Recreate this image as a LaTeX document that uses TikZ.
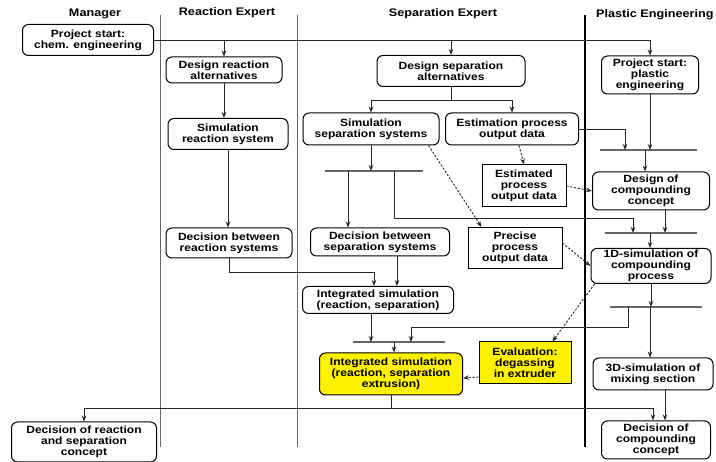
\documentclass[tikz,border=0pt]{standalone}
\usepackage{fontspec}
\setmainfont[FakeStretch=1.15]{Liberation Sans}
\usetikzlibrary{positioning,arrows.meta}

\begin{document}
\begin{tikzpicture}
    [x=1pt,y=-1pt,every node/.style={draw, line width=1pt, rounded corners=6pt, align=center, inner sep=1pt, font=\bfseries\fontsize{10.5}{11}\selectfont},
     head/.style={draw=none, font=\bfseries\fontsize{11}{12}\selectfont},
     box/.style={rounded corners=0pt},
     hl/.style={fill=yellow},
     lane/.style={draw=black!60, line width=0.9pt},
     bar/.style={draw=black!60, line width=1.5pt},
     con/.style={draw=black!85, line width=0.9pt, -{Stealth[length=6pt,width=4.5pt]}},
     dcon/.style={con, dash pattern=on 2.2pt off 1.6pt}]
  \useasboundingbox (0,0) rectangle (716,462);

  \node[head] (h1) at (95,14) {Manager};
  \node[head] (h2) at (227,13) {Reaction Expert};
  \node[head] (h3) at (443,14) {Separation Expert};
  \node[head, anchor=east] (h4) at (715,15) {Plastic Engineering};

  \draw[lane] (160,15) -- (160,447);
  \draw[lane] (297,15) -- (297,447);
  \draw[line width=2.8pt] (585,15) -- (585,447);

  \node[minimum width=131pt, minimum height=31pt] (n1) at (88,40) {Project start:\\chem. engineering};
  \node[minimum width=116pt, minimum height=26pt] (n2) at (224,70) {Design reaction\\alternatives};
  \node[minimum width=120pt, minimum height=31pt] (n3) at (228,134) {Simulation\\reaction system};
  \node[minimum width=126pt, minimum height=30pt] (n4) at (229,243) {Decision between\\reaction systems};
  \node[minimum width=148pt, minimum height=31pt] (n5) at (451,71) {Design separation\\alternatives};
  \node[minimum width=136pt, minimum height=32pt] (n6) at (371,129) {Simulation\\separation systems};
  \node[minimum width=133pt, minimum height=32pt] (n7) at (512,129) {Estimation process\\output data};
  \node[minimum width=97pt, minimum height=38pt] (n8) at (650,75) {Project start:\\plastic\\engineering};
  \node[box, minimum width=84pt, minimum height=42pt] (n9) at (524,186) {Estimated\\process\\output data};
  \node[minimum width=117pt, minimum height=38pt] (n10) at (651,191) {Design of\\compounding\\concept};
  \node[box, minimum width=94pt, minimum height=41pt] (n11) at (515,248) {Precise\\process\\output data};
  \node[minimum width=139pt, minimum height=28pt] (n12) at (380,242) {Decision between\\separation systems};
  \node[minimum width=120pt, minimum height=35pt] (n13) at (651,266) {1D-simulation of\\compounding\\process};
  \node[minimum width=151pt, minimum height=27pt] (n14) at (378,300) {Integrated simulation\\(reaction, separation)};
  \node[hl, minimum width=143pt, minimum height=42pt] (n15) at (391,374) {Integrated simulation\\(reaction, separation\\extrusion)};
  \node[box, hl, minimum width=92pt, minimum height=42pt] (n16) at (525,363) {Evaluation:\\degassing\\in extruder};
  \node[minimum width=120pt, minimum height=32pt] (n17) at (653,374) {3D-simulation of\\mixing section};
  \node[minimum width=109pt, minimum height=38pt] (n18) at (656,440) {Decision of\\compounding\\concept};
  \node[minimum width=145pt, minimum height=40pt] (n19) at (84,442) {Decision of reaction\\and separation\\concept};

  % synchronisation bars
  \coordinate (b1a) at (325,171); \coordinate (b1b) at (423,171);
  \coordinate (b2a) at (600,150); \coordinate (b2b) at (697,150);
  \coordinate (b3a) at (605,233); \coordinate (b3b) at (697,233);
  \coordinate (b4a) at (610,307); \coordinate (b4b) at (702,307);
  \coordinate (b5a) at (353,342); \coordinate (b5b) at (445,342);
  \foreach \a/\b in {b1a/b1b, b2a/b2b, b3a/b3b, b4a/b4b, b5a/b5b}
    \draw[bar] (\a) -- (\b);

  \coordinate (c1) at (451,100);
  \coordinate (k1) at (348,171);
  \coordinate (k2) at (625,150);
  \coordinate (k3) at (645,150);
  \coordinate (k4) at (394,171);
  \coordinate (k5) at (633,218);
  \coordinate (k7) at (650,233);
  \coordinate (k8) at (628,307);
  \coordinate (k9) at (411,327);
  \coordinate (k10) at (650,307);
  \coordinate (k11) at (394,342);
  \coordinate (k12) at (391,408);
  \coordinate (k13) at (374,272);

  \draw[con] (n1.east) -| (n8.north);
  \draw[con] (n1.east -| n2.north) -- (n2.north);
  \draw[con] (n1.east -| n5.north) -- (n5.north);
  \foreach \from/\to in {n2/n3, n3/n4}
    \draw[con] (\from.south) -- (\from.south |- \to.north);
  \draw[con, -] (n5.south) -- (c1);
  \draw[con] (c1) -| (n6.north);
  \draw[con] (c1) -| (n7.north);
  \draw[con] (n7.east) -| (k2);
  \draw[con] (n8.south) -- (n8.south |- b2a);
  \draw[con] (k3) -- (k3 |- n10.north);
  \draw[con] (n6.south) -- (n6.south |- b1a);
  \draw[con] (k1) -- (k1 |- n12.north);
  \draw[con] (k4) |- (k5) -- (k5 |- b3a);
  \draw[con] ([xshift=14pt]n10.south) -- ([xshift=14pt]n10.south |- b3a);
  \draw[con] (k7) -- (k7 |- n13.north);
  \draw[con] (n13.south) -- (n13.south |- b4a);
  \draw[con] (k8) |- (k9) -- (k9 |- b5a);
  \draw[con] (k10) -- (k10 |- n17.north);
  \draw[con] ([xshift=-7pt]n14.south) -- ([xshift=-7pt]n14.south |- b5a);
  \draw[con] (k11) -- (k11 |- n15.north);
  \draw[con, -] (n15.south) -- (k12);
  \draw[con] (k12) -| (n19.north);
  \draw[con] (k12) -| ([xshift=-3pt]n18.north);
  \draw[con] ([xshift=12pt]n17.south) -- ([xshift=12pt]n17.south |- n18.north);
  \draw[con] ([xshift=17pt]n12.south) -- ([xshift=17pt]n12.south |- n14.north);
  \draw[con] (n4.south) |- (k13) -- (k13 |- n14.north);

  % data flows
  \draw[dcon] ([xshift=7pt]n7.south) -- (n9.north);
  \draw[dcon] ([xshift=-11pt]n6.south east) -- ([xshift=14pt]n11.north west);
  \draw[dcon] (n9.east) -- (n10.west);
  \draw[dcon] ([yshift=5pt]n11.east) -- (n13.west);
  \draw[dcon] ([xshift=4pt]n13.south west) -- ([xshift=-19pt]n16.north east);
  \draw[dcon] ([yshift=-14pt]n16.west) -- ([yshift=-4pt]n15.east);
\end{tikzpicture}
\end{document}
